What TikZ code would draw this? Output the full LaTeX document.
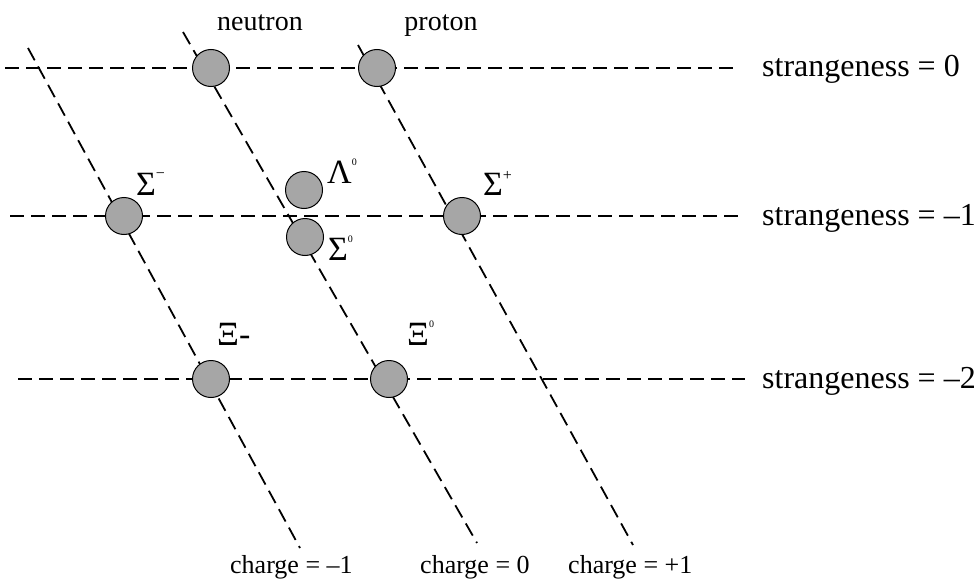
\documentclass[tikz,border=0pt]{standalone}
\usepackage{fontspec}
\setmainfont{Liberation Serif}
\definecolor{partgray}{RGB}{166,166,166}
\newcommand\supzero{\raisebox{18pt}{\fontsize{10}{10}\selectfont 0}}
\newcommand\supminus{\raisebox{17pt}{\fontsize{16}{16}\selectfont −}}
\newcommand\supplus{\raisebox{15pt}{\fontsize{16}{16}\selectfont +}}
\tikzset{
  gridline/.style={line width=1.8pt, dash pattern=on 14pt off 7pt},
  particle/.style={circle, draw=black, line width=1pt, fill=partgray, minimum size=37pt, inner sep=0pt},
  toplab/.style={font=\fontsize{28}{32}\selectfont, inner sep=0pt, anchor=base},
  strlab/.style={font=\fontsize{32}{36}\selectfont, inner sep=0pt, anchor=base west},
  chlab/.style={font=\fontsize{26}{30}\selectfont, inner sep=0pt, anchor=base west},
  greek/.style={font=\fontsize{34}{38}\selectfont, inner sep=0pt, anchor=base west},
}
\begin{document}
\begin{tikzpicture}[x=1pt,y=-1pt]
\useasboundingbox (0,0) rectangle (976,578);
% line end points
\coordinate (h0a) at (5,68);   \coordinate (h0b) at (740,68);
\coordinate (h1a) at (10,216); \coordinate (h1b) at (742,216);
\coordinate (h2a) at (18,379); \coordinate (h2b) at (745,379);
\coordinate (d1a) at (28,48);  \coordinate (d1b) at (300,548);
\coordinate (d2a) at (183,32); \coordinate (d2b) at (477,543);
\coordinate (d3a) at (358,45); \coordinate (d3b) at (633,545);
\draw[gridline] (h0a) -- (h0b);
\draw[gridline] (h1a) -- (h1b);
\draw[gridline] (h2a) -- (h2b);
\draw[gridline] (d1a) -- (d1b);
\draw[gridline] (d2a) -- (d2b);
\draw[gridline] (d3a) -- (d3b);
% particles
\node[particle] (neutron) at (211,68) {};
\node[particle] (proton) at (377,68) {};
\node[particle] (sigm) at (124,216) {};
\node[particle] (lam) at (304,190) {};
\node[particle] (sig0) at (305,237) {};
\node[particle] (sigp) at (462,216) {};
\node[particle] (xim) at (211,379) {};
\node[particle] (xi0) at (389,379) {};
% labels
\node[toplab] (lneutron) at (260,31) {neutron};
\node[toplab] (lproton) at (441,31) {proton};
\node[greek] (lsigm) at (136,195) {Σ\supminus};
\node[greek] (llam) at (327,183) {Λ\supzero};
\node[greek] (lsig0) at (328,260) {Σ\supzero};
\node[greek] (lsigp) at (483,195) {Σ\supplus};
\node[greek] (lxim) at (217,345) {Ξ-};
\node[greek] (lxi0) at (407,345) {Ξ\supzero};
\node[strlab] (s0) at (762,77) {strangeness = 0};
\node[strlab] (s1) at (762,225) {strangeness = –1};
\node[strlab] (s2) at (762,388) {strangeness = –2};
\node[chlab] (c1) at (230,573) {charge = –1};
\node[chlab] (c0) at (420,573) {charge = 0};
\node[chlab] (c2) at (568,573) {charge = +1};
\end{tikzpicture}
\end{document}
